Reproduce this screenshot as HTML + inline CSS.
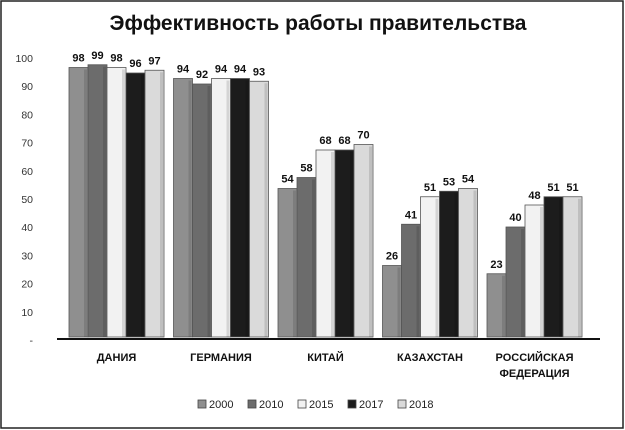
<!DOCTYPE html>
<html><head><meta charset="utf-8"><style>
body{margin:0;background:#fff}
svg{display:block;font-family:"Liberation Sans",sans-serif}
</style></head><body>
<svg id="c" width="625" height="430">
<rect x="1" y="1" width="622" height="427" fill="#fff" stroke="#222" stroke-width="1.5"/>
<text x="318" y="30" text-anchor="middle" font-size="21" font-weight="bold" fill="#111">Эффективность работы правительства</text>
</svg>
<script>
const categories=[["ДАНИЯ"],["ГЕРМАНИЯ"],["КИТАЙ"],["КАЗАХСТАН"],["РОССИЙСКАЯ","ФЕДЕРАЦИЯ"]];
const seriesNames=["2000","2010","2015","2017","2018"];
const v2000=[98,94,54,26,23];
const v2010=[99,92,58,41,40];
const v2015=[98,94,68,51,48];
const v2017=[96,94,68,53,51];
const v2018=[97,93,70,54,51];
const yTicks=[0,10,20,30,40,50,60,70,80,90,100];
const series=[v2000,v2010,v2015,v2017,v2018];
const colors=["#8f8f8f","#6c6c6c","#f2f2f2","#1c1c1c","#dadada"];
const svg=document.getElementById('c');
const NS="http://www.w3.org/2000/svg";
const y0=337;
const tickY=v=>340-v*2.82;
const y=v=>y0-v*2.75;
const gx=i=>69+i*104.5;
const bw=19;
function mk(t,a,p){const e=document.createElementNS(NS,t);for(const k in a)e.setAttribute(k,a[k]);(p||svg).appendChild(e);return e;}
yTicks.forEach(t=>{
 const e=mk('text',{x:33,y:tickY(t)+4,'text-anchor':'end','font-size':'10.5',fill:'#333'});
 e.textContent=t===0?'-':String(t);
 
 
});
const ax=mk('line',{x1:57,x2:600,y1:339,y2:339,stroke:'#111','stroke-width':2});


categories.forEach((c,i)=>{
 series.forEach((s,j)=>{
  const x=gx(i)+j*bw,v=s[i];
  const r=mk('rect',{x:x,y:y(v),width:bw,height:y0-y(v),fill:colors[j],stroke:'#555','stroke-width':0.8});
  
  
  const sh=mk('rect',{x:x+bw-4,y:y(v)+2,width:3,height:y0-y(v)-2,fill:'#000',opacity:0.12});
  
  
  const l=mk('text',{x:x+bw/2,y:y(v)-6,'text-anchor':'middle','font-size':'11','font-weight':'bold',fill:'#111'});
  l.textContent=v;
  
  
 });
 const cx=gx(i)+bw*2.5;
 c.forEach((line,k)=>{
  const t=mk('text',{x:cx,y:361+k*16,'text-anchor':'middle','font-size':'11','font-weight':'bold',fill:'#111'});
  t.textContent=line;
  
  
 });
});
seriesNames.forEach((n,j)=>{
 const x=198+j*50;
 const g=mk('g',{});
 
 
 mk('rect',{x:x,y:400,width:8,height:8,fill:colors[j],stroke:'#444','stroke-width':0.8},g);
 const t=mk('text',{x:x+11,y:408,'font-size':'11',fill:'#222'},g);
 t.textContent=n;
});
</script>
</body></html>
